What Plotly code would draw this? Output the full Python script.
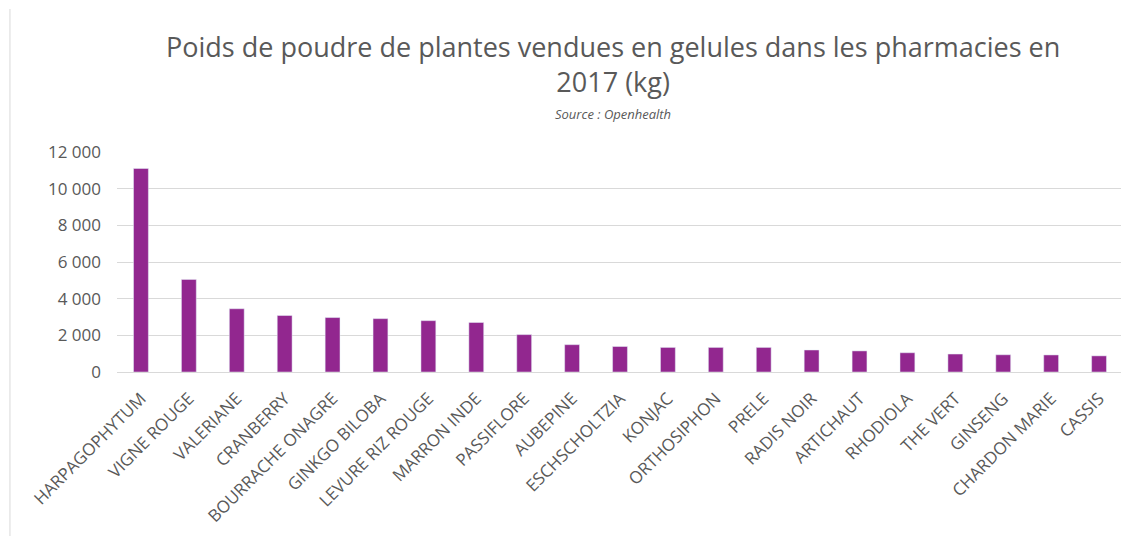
import plotly.graph_objects as go

categories = ["HARPAGOPHYTUM", "VIGNE ROUGE", "VALERIANE", "CRANBERRY", "BOURRACHE ONAGRE",
              "GINKGO BILOBA", "LEVURE RIZ ROUGE", "MARRON INDE", "PASSIFLORE", "AUBEPINE",
              "ESCHSCHOLTZIA", "KONJAC", "ORTHOSIPHON", "PRELE", "RADIS NOIR", "ARTICHAUT",
              "RHODIOLA", "THE VERT", "GINSENG", "CHARDON MARIE", "CASSIS"]
values = [11100, 5050, 3450, 3080, 2970, 2910, 2800, 2700, 2040, 1490,
          1390, 1340, 1340, 1340, 1200, 1150, 1050, 980, 940, 930, 880]
y_ticks = [0, 2000, 4000, 6000, 8000, 10000, 12000]
y_tick_labels = ["0", "2 000", "4 000", "6 000", "8 000", "10 000", "12 000"]

fig = go.Figure(go.Bar(x=categories, y=values, marker_color="#92278F", width=0.31))

font_family = "Open Sans, Noto Sans, sans-serif"
fig.update_layout(
    width=1129, height=536,
    paper_bgcolor="white", plot_bgcolor="white",
    margin=dict(l=109, r=14, t=144, b=172, autoexpand=False),
    font=dict(family=font_family, color="#595959"),
    showlegend=False,
)
fig.update_yaxes(range=[0, 12000], tickvals=y_ticks, ticktext=y_tick_labels,
                 showgrid=True, gridcolor="#D9D9D9", gridwidth=1, zeroline=False,
                 tickfont=dict(size=17, color="#595959"), ticks="", showline=False,
                 automargin=False, ticklabelstandoff=15)
fig.update_xaxes(tickangle=-45, tickfont=dict(size=17, color="#595959"), showline=True,
                 linecolor="#D9D9D9", linewidth=1, ticks="", automargin=False,
                 ticklabelstandoff=9)

fig.add_annotation(text="Poids de poudre de plantes vendues en gelules dans les pharmacies en<br>2017 (kg)",
                   xref="paper", yref="paper", x=0.493, y=1.0, yshift=126, xanchor="center", yanchor="top",
                   showarrow=False, font=dict(size=27, color="#595959", family=font_family))
fig.add_annotation(text="<i>Source : Openhealth</i>", xref="paper", yref="paper", x=0.493, y=1.0, yshift=49,
                   xanchor="center", yanchor="top", showarrow=False,
                   font=dict(size=13, color="#595959", family=font_family))
fig.add_shape(type="line", xref="paper", yref="paper", x0=-0.1064, x1=-0.1064, y0=-0.78, y1=1.65,
              line=dict(color="#D9D9D9", width=1))

fig.write_html("out.html")
